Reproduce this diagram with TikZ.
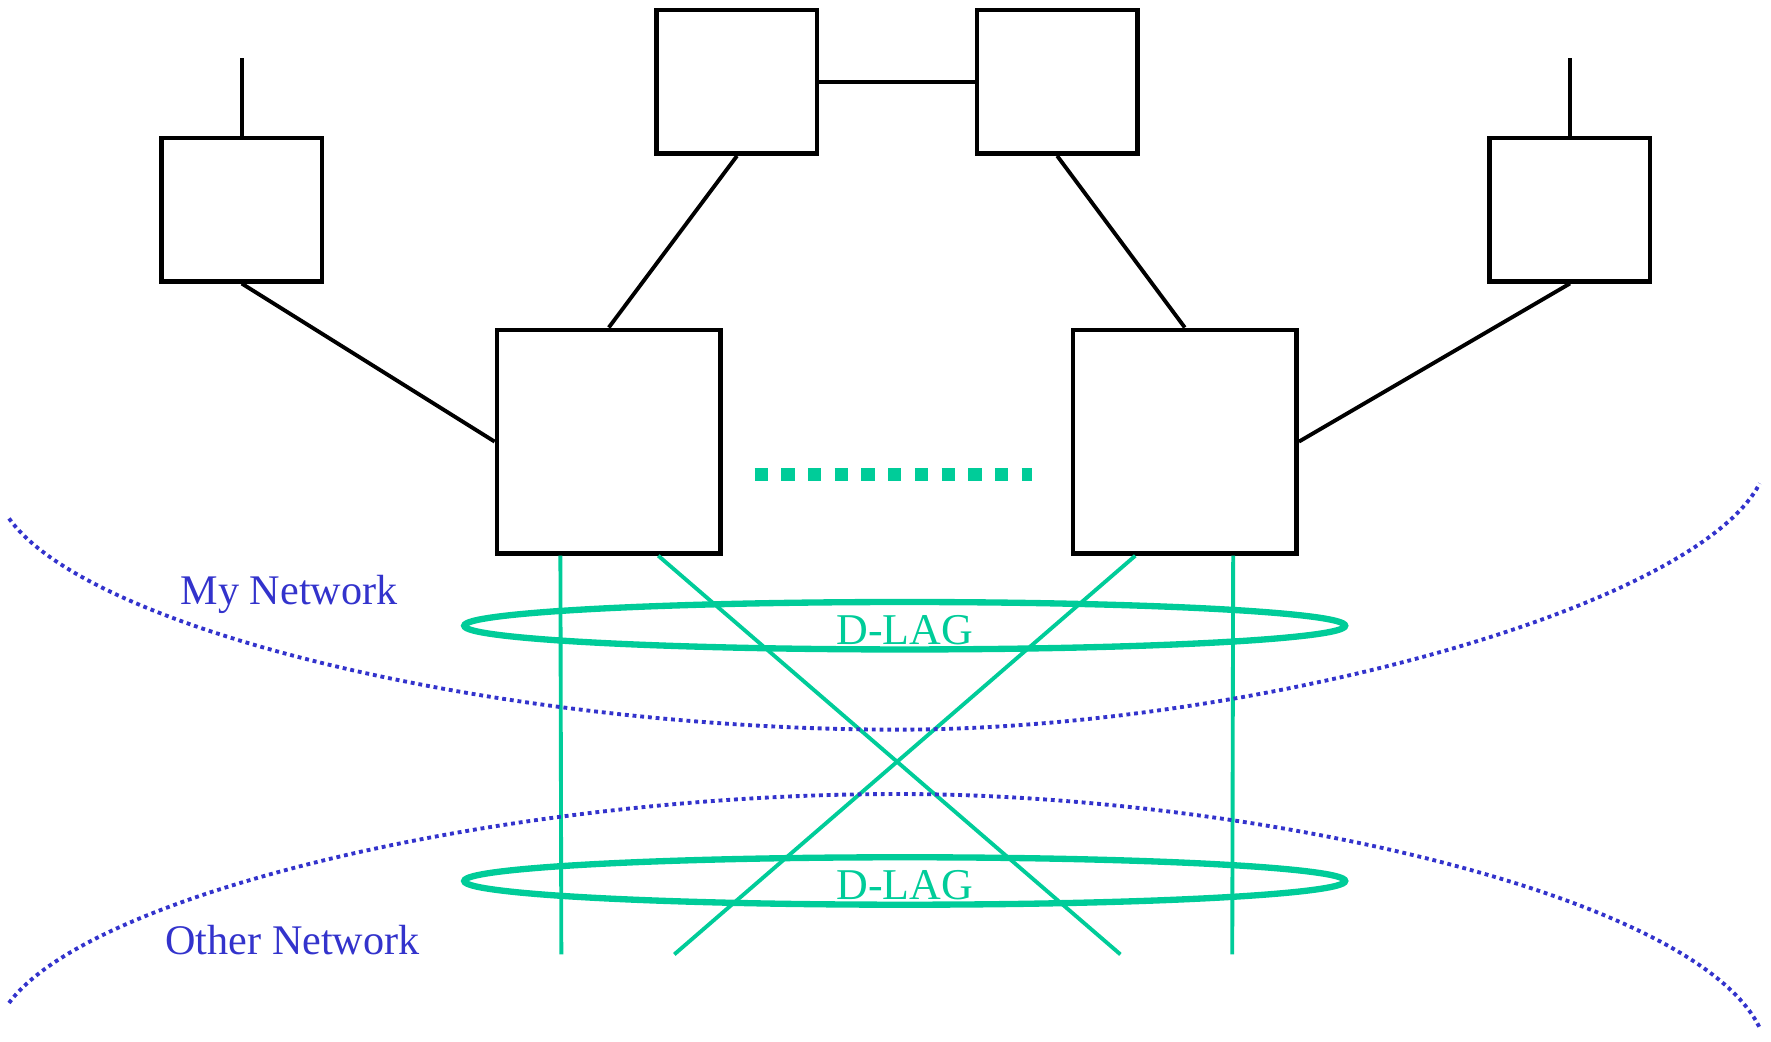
\documentclass[tikz,border=0pt]{standalone}
\usepackage{fontspec}
\setmainfont{Liberation Serif}
\usetikzlibrary{calc}
\definecolor{lagGreen}{RGB}{0,204,153}
\definecolor{netBlue}{RGB}{51,51,204}
\tikzset{
  bridge/.style={draw, line width=1.3pt, minimum width=1.604cm, minimum height=1.434cm, inner sep=0pt},
  bigbridge/.style={draw, line width=1.3pt, minimum size=2.236cm, inner sep=0pt},
  wire/.style={line width=1.1pt},
  lagline/.style={lagGreen, line width=1.1pt},
  lagring/.style={lagGreen, line width=1.8pt},
  lagtext/.style={text=lagGreen, font=\fontsize{12.5}{14}\selectfont},
  nettext/.style={text=netBlue, font=\fontsize{12}{14}\selectfont},
  netedge/.style={netBlue, line width=1.1pt, dash pattern=on 1.1pt off 1.1pt}
}
\begin{document}
\begin{tikzpicture}[x=0.011295cm, y=-0.011295cm]
\useasboundingbox (0,0) rectangle (1568,922);
% bridges of my network
\node[bridge] (leafL) at (214,185.5) {};
\node[bridge] (topA) at (652.5,72.5) {};
\node[bridge] (topB) at (936,72.5) {};
\node[bridge] (leafR) at (1390,185.5) {};
\node[bigbridge] (bigL) at (539,391) {};
\node[bigbridge] (bigR) at (1049,391) {};
\coordinate (antL) at (214,51);
\coordinate (antR) at (1390,51);
\draw[wire] (leafL.north) -- (antL);
\draw[wire] (leafR.north) -- (antR);
\draw[wire] (topA.east) -- (topB.west);
\draw[wire] (leafL.south) -- (bigL.west);
\draw[wire] (topA.south) -- (bigL.north);
\draw[wire] (topB.south) -- (bigR.north);
\draw[wire] (leafR.south) -- (bigR.east);
% intra-portal link
\draw[lagGreen, line width=3.8pt, dash pattern=on 3.8pt off 3.8pt] ($(bigL.east)+(28,29)$) -- ($(bigR.west)+(-34,29)$);
% links to the other network
\coordinate (endA) at (497,845);
\coordinate (endB) at (992,845);
\coordinate (endC) at (597,845);
\coordinate (endD) at (1091,845);
\draw[lagline] ($(bigL.south west)!0.288!(bigL.south east)$) -- (endA);
\draw[lagline] ($(bigL.south west)!0.717!(bigL.south east)$) -- (endB);
\draw[lagline] ($(bigR.south west)!0.283!(bigR.south east)$) -- (endC);
\draw[lagline] ($(bigR.south west)!0.712!(bigR.south east)$) -- (endD);
% the two D-LAGs
\draw[lagring] (801,554) ellipse (390 and 21);
\draw[lagring] (801,780) ellipse (390 and 21);
\node[lagtext] (lagTop) at (801,558) {D-LAG};
\node[lagtext] (lagBot) at (801,784) {D-LAG};
% network boundaries
\draw[netedge] (8,459) .. controls (80,560) and (450,646) .. (795,646) .. controls (1100,646) and (1500,540) .. (1558,428);
\draw[netedge] (8,888) .. controls (80,790) and (450,703) .. (795,703) .. controls (1100,703) and (1500,790) .. (1558,910);
\node[nettext] (myNet) at (256,526) {My Network};
\node[nettext] (otherNet) at (259,832) {Other Network};
\end{tikzpicture}
\end{document}
